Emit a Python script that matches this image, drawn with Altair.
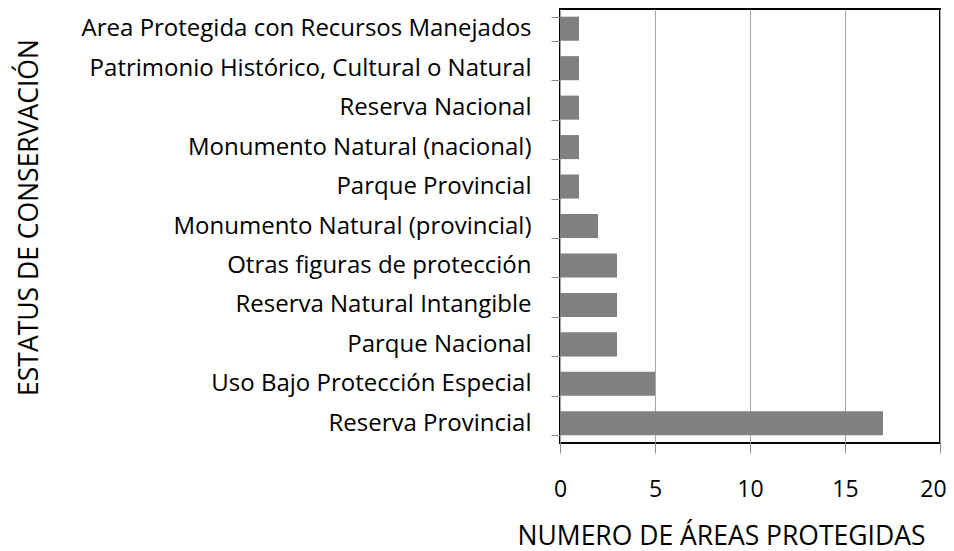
import altair as alt
import pandas as pd

categories = [
    "Area Protegida con Recursos Manejados",
    "Patrimonio Histórico, Cultural o Natural",
    "Reserva Nacional",
    "Monumento Natural (nacional)",
    "Parque Provincial",
    "Monumento Natural (provincial)",
    "Otras figuras de protección",
    "Reserva Natural Intangible",
    "Parque Nacional",
    "Uso Bajo Protección Especial",
    "Reserva Provincial",
]
values = [1, 1, 1, 1, 1, 2, 3, 3, 3, 5, 17]
x_ticks = [0, 5, 10, 15, 20]

df = pd.DataFrame({"cat": categories, "n": values})

FONT = "Open Sans"

chart = (
    alt.Chart(df)
    .mark_bar(color="#808080")
    .encode(
        x=alt.X(
            "n:Q",
            scale=alt.Scale(domain=[0, 20], nice=False),
            axis=alt.Axis(
                values=x_ticks,
                title="NUMERO DE ÁREAS PROTEGIDAS",
                grid=True,
                gridColor="#a6a6a6",
                gridWidth=1,
                domain=False,
                ticks=True,
                tickColor="#8c8c8c",
                tickSize=10,
                labelFlush=False,
                labelOverlap=False,
                labelOffset={"condition": {"test": "datum.value == 20", "value": -7}, "value": 0},
                labelFont=FONT,
                labelFontSize=23,
                labelColor="#000000",
                labelBaseline="alphabetic",
                labelPadding=43,
                titleFont=FONT,
                titleFontSize=26.5,
                titleFontWeight="normal",
                titleColor="#000000",
                titleBaseline="alphabetic",
                titleX=161,
                titleY=101,
                titleAnchor="middle",
                titleAlign="center",
            ),
        ),
        y=alt.Y(
            "cat:N",
            sort=categories,
            scale=alt.Scale(paddingInner=0.39, paddingOuter=0.195),
            axis=alt.Axis(
                title="ESTATUS DE CONSERVACIÓN",
                grid=False,
                domain=False,
                ticks=True,
                tickBand="extent",
                tickColor="#8c8c8c",
                tickSize=9,
                labelFont=FONT,
                labelFontSize=24,
                labelColor="#000000",
                labelPadding=20,
                labelLimit=600,
                titleFont=FONT,
                titleFontSize=26.5,
                titleFontWeight="normal",
                titleColor="#000000",
                titleBaseline="alphabetic",
                titleAngle=270,
                titleX=-523,
                titleY=208,
                titleAlign="center",
            ),
        ),
    )
    .properties(
        width=380,
        height=434,
        background="#ffffff",
        autosize=alt.AutoSizeParams(type="none"),
        padding={"left": 552, "top": 1, "right": 6, "bottom": 108},
    )
    .configure_view(stroke="#000000", strokeWidth=2)
)

chart.save("out.html", embed_options={"renderer": "svg", "actions": False})
